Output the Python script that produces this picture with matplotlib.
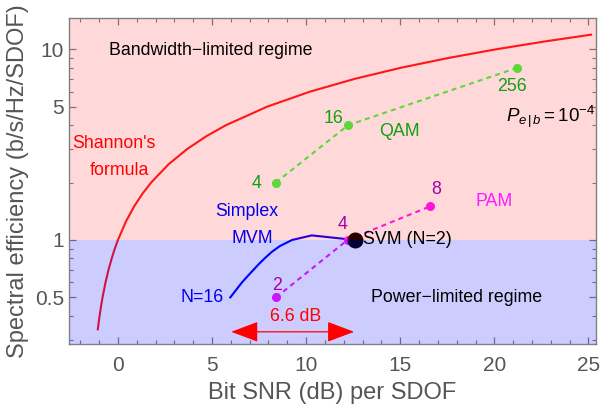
import matplotlib
matplotlib.use("Agg")
import matplotlib.pyplot as plt
from matplotlib.ticker import FixedLocator, NullFormatter, LogLocator, MultipleLocator

plt.rcParams['font.family'] = ['Liberation Sans', 'DejaVu Sans']
plt.rcParams['mathtext.fontset'] = 'custom'
plt.rcParams['mathtext.rm'] = 'Liberation Sans'
plt.rcParams['mathtext.it'] = 'Liberation Sans:italic'

# Shannon limit: spectral efficiency vs. bit SNR (dB)
shannon_rho = [0.34, 0.37, 0.4, 0.45, 0.5, 0.6, 0.7, 0.8, 0.9, 1.0, 1.25, 1.5, 1.75,
               2.0, 2.5, 3.0, 3.5, 4.0, 5.0, 6.0, 7.0, 8.0, 9.0, 10.0, 11.0, 11.93]
shannon_snr = [-1.07, -1.022, -0.976, -0.897, -0.818, -0.658, -0.496, -0.332, -0.167, 0.0,
               0.425, 0.86, 1.305, 1.761, 2.701, 3.68, 4.694, 5.74, 7.924, 10.212,
               12.587, 15.034, 17.542, 20.099, 22.697, 25.14]

# QAM points (M = 4, 16, 256)
qam_snr = [8.39, 12.23, 21.22]
qam_rho = [2, 4, 8]
qam_labels = ['4', '16', '256']

# PAM points (M = 2, 4, 8)
pam_snr = [8.4, 12.2, 16.58]
pam_rho = [0.5, 1.0, 1.5]
pam_labels = ['2', '4', '8']

# simplex MVM curve, N = 16, 12, 10, 8, 7, 6, 5, 4, 3 and 2 (SVM)
mvm_snr = [5.97, 6.58, 7.0, 7.5, 7.8, 8.15, 8.6, 9.25, 10.3, 12.59]
mvm_rho = [0.5, 0.5975, 0.664, 0.75, 0.802, 0.862, 0.929, 1.0, 1.057, 1.0]

svm_snr = 12.59
svm_rho = 1.0

gap_db = (6.02, 12.55)

fig = plt.figure(figsize=(6, 4.08), dpi=100)
ax = fig.add_axes([0.115, 0.157, 0.8783, 0.799])
ax.set_yscale('log')
ax.set_xlim(-2.6, 25.4)
ax.set_ylim(0.285, 14.6)

dash = (0, (2.4, 2.0))
# curves under the shaded regions, so the regions tint them
ax.plot(shannon_snr, shannon_rho, color='#ff1a1a', lw=1.5, zorder=1)
ax.plot(mvm_snr, mvm_rho, color='#0000ff', lw=1.5, zorder=1, solid_joinstyle='round')
ax.plot(pam_snr, pam_rho, color='#ff1aff', lw=1.5, ls=dash, marker='o', ms=5.5, zorder=1)
ax.plot([svm_snr], [svm_rho], 'o', color='black', ms=10.5, zorder=1)

ax.axhspan(1.0, 100, color='#ff0000', alpha=0.15, lw=0, zorder=2)
ax.axhspan(0.01, 1.0, color='#0000ff', alpha=0.2, lw=0, zorder=2)

# QAM sits fully in the upper region, drawn on top to keep its bright green
ax.plot(qam_snr, qam_rho, color='#5cd83a', lw=1.5, ls=dash, marker='o', ms=5.5, zorder=3)

fs = 12.8
ax.text(4.93, 9.8, 'Bandwidth\u2212limited regime', fontsize=fs, ha='center', va='center', zorder=3)
ax.text(18.0, 0.5, 'Power\u2212limited regime', fontsize=fs, ha='center', va='center', zorder=3)
ax.text(-0.21, 3.22, "Shannon's", fontsize=fs, color='#ff0000', ha='center', va='center', zorder=3)
ax.text(0.07, 2.32, 'formula', fontsize=fs, color='#ff0000', ha='center', va='center', zorder=3)
ax.text(6.86, 1.41, 'Simplex', fontsize=fs, color='#0000ee', ha='center', va='center', zorder=3)
ax.text(7.13, 1.02, 'MVM', fontsize=fs, color='#0000ee', ha='center', va='center', zorder=3)
ax.text(5.6, 0.5, 'N=16', fontsize=fs, color='#0000ee', ha='right', va='center', zorder=3)
ax.text(13.0, 1.0, 'SVM (N=2)', fontsize=fs, color='black', ha='left', va='center', zorder=3)

qam_pos = [(7.38, 1.98), (11.48, 4.35), (20.96, 6.37)]
for (tx, ty), lab in zip(qam_pos, qam_labels):
    ax.text(tx, ty, lab, fontsize=fs, color='#10a010', ha='center', va='center', zorder=3)
ax.text(14.97, 3.7, 'QAM', fontsize=fs, color='#10a010', ha='center', va='center', zorder=3)

pam_pos = [(8.44, 0.58), (11.96, 1.2), (16.93, 1.83)]
for (tx, ty), lab in zip(pam_pos, pam_labels):
    ax.text(tx, ty, lab, fontsize=fs, color='#a800a8', ha='center', va='center', zorder=3)
ax.text(19.97, 1.6, 'PAM', fontsize=fs, color='#ff1aff', ha='center', va='center', zorder=3)

ax.text(22.99, 4.43, r'$\mathit{P}_{\mathit{e}\,\mathrm{|}\,\mathit{b}}\mathrm{=10^{-4}}$',
        fontsize=13.5, ha='center', va='center', zorder=3)

ax.annotate('', xy=(gap_db[0], 0.33), xytext=(gap_db[1], 0.33),
            arrowprops=dict(arrowstyle='<|-|>,head_length=0.85,head_width=0.32',
                            color='#ff0000', lw=0.9, mutation_scale=20, shrinkA=0, shrinkB=0),
            zorder=4)
ax.text(9.42, 0.396, '6.6 dB', fontsize=fs, color='#ff0000', ha='center', va='center', zorder=3)

# frame and ticks
gray = '#808080'
for sp in ax.spines.values():
    sp.set_color(gray)
    sp.set_linewidth(1.0)
ax.xaxis.set_major_locator(MultipleLocator(5))
ax.xaxis.set_minor_locator(MultipleLocator(1))
ax.yaxis.set_major_locator(FixedLocator([0.5, 1, 5, 10]))
ax.yaxis.set_minor_locator(LogLocator(base=10, subs=(1, 2, 3, 4, 5, 6, 7, 8, 9)))
ax.yaxis.set_minor_formatter(NullFormatter())
ax.set_yticklabels(['0.5', '1', '5', '10'])
ax.tick_params(which='both', direction='in', top=True, right=True, color=gray,
               labelcolor='#555555', labelsize=15)
ax.tick_params(which='major', length=5, width=0.9)
ax.tick_params(which='minor', length=2.8, width=0.8)
ax.tick_params(axis='x', pad=9)

ax.set_xlabel('Bit SNR (dB) per SDOF', fontsize=17, color='#555555', labelpad=5)
ax.set_ylabel('Spectral efficiency (b/s/Hz/SDOF)', fontsize=17, color='#555555', labelpad=4)

fig.savefig('out.png', dpi=100)
